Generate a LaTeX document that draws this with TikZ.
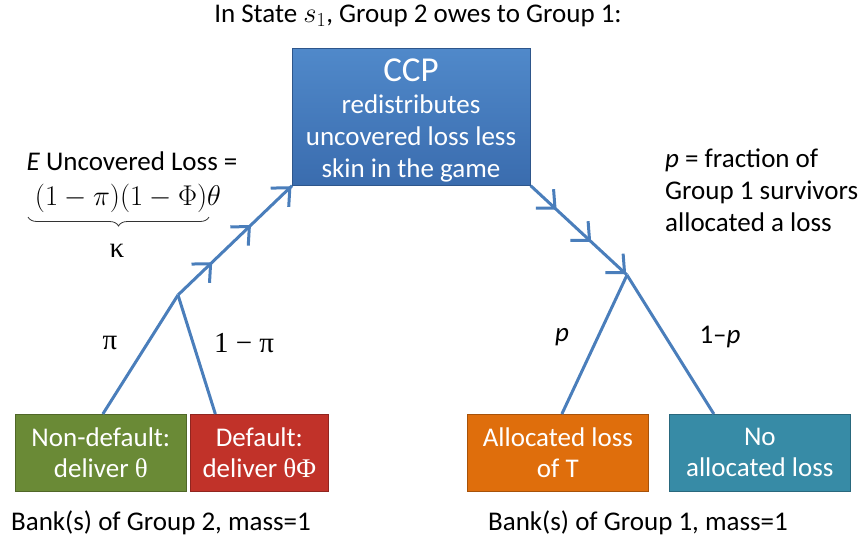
\documentclass[tikz,border=0pt]{standalone}
\usepackage{fontspec}
\setmainfont{Carlito}
\newfontfamily\serifgr{Liberation Serif}
\usetikzlibrary{arrows.meta,decorations.markings,decorations.pathreplacing}
\definecolor{linkblue}{HTML}{4A7EBB}
\definecolor{ccptop}{HTML}{5089CA}
\definecolor{ccpbot}{HTML}{3A6CAE}
\definecolor{gbox}{HTML}{6A8A36}
\definecolor{rbox}{HTML}{C13229}
\definecolor{obox}{HTML}{DF6E0C}
\definecolor{tbox}{HTML}{378BA6}
\tikzset{mybarb/.tip={Straight Barb[length=14pt,width=26pt,line width=3pt]}}
\begin{document}
\begin{tikzpicture}[x=1pt,y=-1pt,
  every node/.style={font=\fontsize{27}{31}\selectfont, inner sep=0pt},
  box/.style={draw=#1!75!black, line width=0.7pt, fill=#1, text=white,
    align=center, anchor=north west, minimum height=77pt,
    font=\fontsize{27}{31}\selectfont},
  link/.style={draw=linkblue, line width=3pt},
  flowleft/.style={link, decoration={markings,
      mark=at position 0.3 with {\arrow{mybarb}},
      mark=at position 0.64 with {\arrow{mybarb}},
      mark=at position 0.995 with {\arrow{mybarb}}}, postaction=decorate},
  flowright/.style={link, decoration={markings,
      mark=at position 0.27 with {\arrow{mybarb}},
      mark=at position 0.63 with {\arrow{mybarb}},
      mark=at position 0.995 with {\arrow{mybarb}}}, postaction=decorate},
  serlbl/.style={font=\fontsize{29}{31}\selectfont\serifgr}
]
\useasboundingbox (0,0) rectangle (862,539);

% title
\node (title) at (418,16) {In State \scalebox{1.15}{$s_1$}, Group 2 owes to Group 1:};

% CCP box
\node[draw=ccpbot!80!black, line width=0.7pt, top color=ccptop, bottom color=ccpbot,
  text=white, align=center, anchor=north west, minimum width=238pt, minimum height=137pt]
  (ccp) at (292,48) {};
\node[text=white, font=\fontsize{35}{37}\selectfont] (ccpt) at (411,70) {CCP};
\node[text=white, align=center, font=\fontsize{27}{32}\selectfont] (ccpb) at (411,138)
  {redistributes\\uncovered loss less\\skin in the game};

% bottom boxes
\node[box=gbox, minimum width=171pt] (nd) at (15,414) {Non-default:\\deliver {\serifgr θ}};
\node[box=rbox, minimum width=138pt] (df) at (190,414) {Default:\\deliver {\serifgr θΦ}};
\node[box=obox, minimum width=181pt] (al) at (467,414) {Allocated loss\\of T};
\node[box=tbox, minimum width=181pt] (na) at (669,414) {No\\allocated loss};

% branch points
\coordinate (lb) at (178,295);
\coordinate (rb) at (627,275);

% connectors
\draw[flowleft] (lb) -- (ccp.south west);
\draw[flowright] (ccp.south east) -- (rb);
\draw[link] (lb) -- ([xshift=2pt]nd.north);
\draw[link] (lb) -- ([xshift=-44pt]df.north);
\draw[link] (rb) -- ([xshift=4pt]al.north);
\draw[link] (rb) -- ([xshift=-46pt]na.north);

% branch labels
\node[serlbl] (pi) at (110,343) {π};
\node[serlbl] (ompi) at (244,343) {1 − π};
\node (p) at (562,337) {\textit{p}};
\node (omp) at (720,337) {1–\textit{p}};

% expected uncovered loss
\node (eul) at (132,161) {\textit{E} Uncovered Loss =};
\node (form) at (128,198) {\resizebox{186pt}{!}{$(1-\pi)(1-\Phi)\theta$}};
\coordinate (brl) at (28,217);
\coordinate (brr) at (209,217);
\draw[decorate, decoration={brace, mirror, amplitude=9pt}, line width=0.8pt, draw=black!80]
  (brl) -- (brr);
\node[serlbl] (kappa) at (117,251) {κ};

% right explanation
\node[align=left, anchor=west, font=\fontsize{27}{32}\selectfont] (pdef) at (665,190)
  {\textit{p} = fraction of\\Group 1 survivors\\allocated a loss};

% bottom labels
\node (g2) at (161,523) {Bank(s) of Group 2, mass=1};
\node (g1) at (638,523) {Bank(s) of Group 1, mass=1};
\end{tikzpicture}
\end{document}
